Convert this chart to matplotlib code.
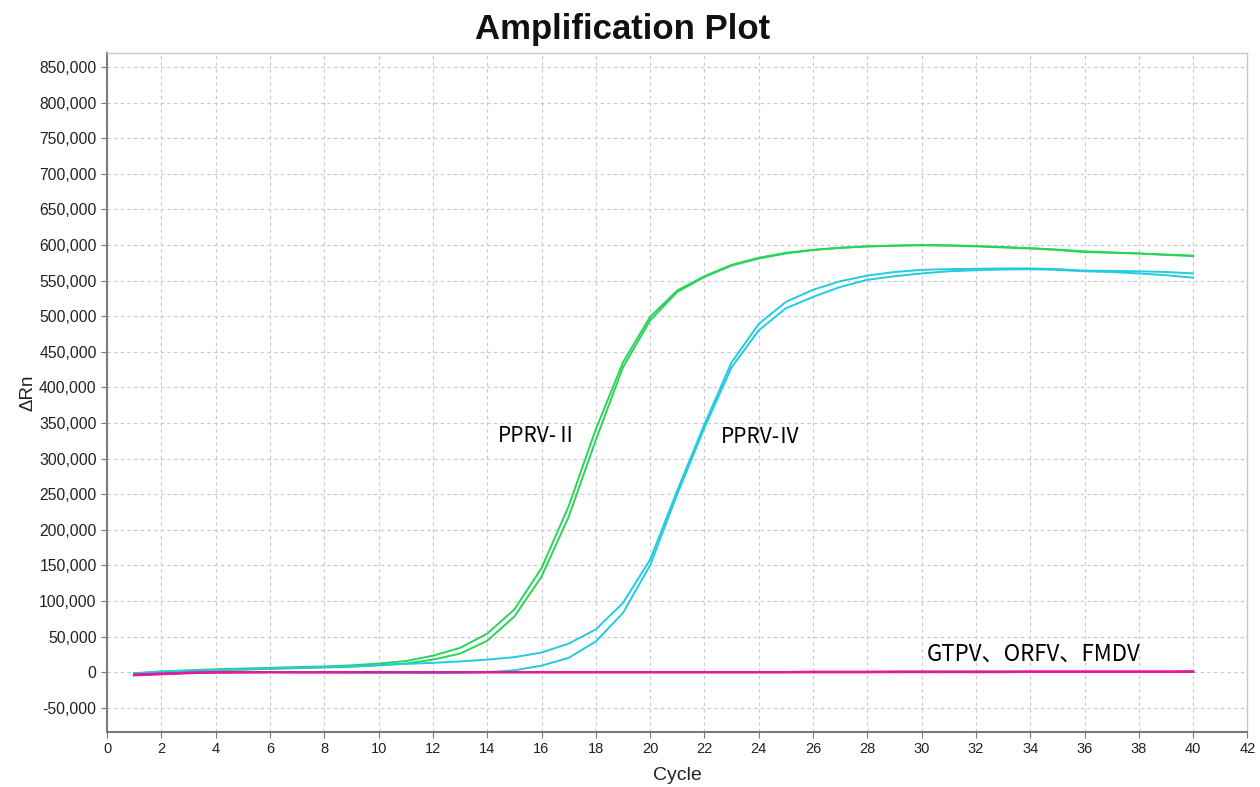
import matplotlib
matplotlib.use("Agg")
import matplotlib.pyplot as plt
from matplotlib.ticker import FuncFormatter, MultipleLocator

cycles = list(range(1, 41))

pprv2_a = [-2000, 1000, 2500, 4000, 5000, 6000, 7000, 8000, 9500, 12000,
           15500, 23000, 34000, 54000, 88000, 146000, 233000, 341000, 435000, 499000,
           536000, 556000, 572000, 582000, 589000, 593000, 596000, 598000, 599000, 599500,
           599000, 598000, 596500, 595000, 593000, 590000, 589000, 588000, 586000, 584500]
pprv2_b = [-2500, 500, 1500, 2500, 3500, 4500, 5500, 6500, 7500, 9500,
           12000, 17500, 26000, 44000, 78000, 134000, 218000, 326000, 428000, 494000,
           534000, 555000, 571000, 581000, 588000, 593000, 596000, 598000, 599000, 600000,
           599500, 598500, 597000, 595500, 593500, 591000, 589500, 588000, 586500, 585000]
pprv4_a = [-1500, 500, 2000, 3000, 4000, 5000, 6000, 7000, 8000, 10000,
           11500, 13000, 15000, 17500, 21000, 27500, 40000, 60000, 97000, 158000,
           255000, 348000, 435000, 489000, 520000, 537000, 549000, 557000, 562000, 565000,
           566000, 566500, 567000, 567000, 566000, 564000, 563500, 563000, 562000, 560000]
pprv4_b = [-2000, -500, 0, 500, 500, 0, -500, -500, -1000, -1000,
           -1000, -1500, -1000, 0, 2500, 9000, 20000, 43000, 83000, 150000,
           250000, 343000, 428000, 480000, 511000, 527000, 541000, 551000, 556000, 560000,
           563000, 564500, 565500, 566000, 565000, 563000, 562000, 560000, 557500, 554000]
gtpv = [-4000, -2500, -1000, -500, 0, 0, 0, 0, 0, 0,
        0, 0, 0, 0, 0, 0, 0, 0, 0, 0,
        0, 0, 0, 0, 0, 500, 500, 500, 500, 500,
        500, 500, 500, 500, 500, 500, 500, 500, 500, 500]
orfv = [-3500, -2000, -1000, 0, 0, 0, 0, 0, 0, 0,
        0, 0, 0, 0, 0, 0, 0, 0, 0, 0,
        0, 0, 0, 0, 0, 0, 0, 0, 500, 500,
        500, 500, 500, 500, 500, 500, 500, 500, 500, 500]
fmdv = [-4500, -3000, -1500, -500, -500, 0, 0, 0, 0, 0,
        0, 0, 0, 0, 0, 0, 0, 0, 0, 0,
        0, 0, 0, 0, 0, 0, 0, 0, 0, 0,
        0, 0, 0, 500, 500, 500, 500, 500, 500, 1000]

labels = ["PPRV-Ⅱ", "PPRV-Ⅳ", "GTPV、ORFV、FMDV"]

green = "#2ad35a"
cyan = "#22cbe0"
magenta = "#e41a9c"

plt.rcParams['font.family'] = ['Liberation Sans', 'DejaVu Sans']
fig = plt.figure(figsize=(12.6, 7.87), dpi=100)
ax = fig.add_axes([0.085, 0.07, 0.905, 0.863])

for s in (pprv2_a, pprv2_b):
    ax.plot(cycles, s, color=green, lw=1.4)
for s in (pprv4_a, pprv4_b):
    ax.plot(cycles, s, color=cyan, lw=1.4)
for s in (gtpv, orfv, fmdv):
    ax.plot(cycles, s, color=magenta, lw=1.6)

ax.set_xlim(0, 42)
ax.set_ylim(-84000, 870000)
ax.xaxis.set_major_locator(MultipleLocator(2))
ax.yaxis.set_major_locator(MultipleLocator(50000))
ax.yaxis.set_major_formatter(FuncFormatter(lambda v, p: f"{int(round(v)):,}"))
ax.grid(True, color="#c8c8c8", linestyle=(0, (3, 3)), linewidth=0.8)
ax.set_axisbelow(True)
for side in ("left", "bottom"):
    ax.spines[side].set_color("#7a7a7a")
    ax.spines[side].set_linewidth(1.5)
for side in ("top", "right"):
    ax.spines[side].set_color("#c8c8c8")
    ax.spines[side].set_linewidth(1.0)
ax.tick_params(axis="both", colors="#7a7a7a", labelcolor="#222222", length=4)
ax.tick_params(axis="y", labelsize=11.3)
ax.tick_params(axis="x", labelsize=10.5)

ax.set_xlabel("Cycle", fontsize=14, color="#222222", labelpad=8)
ax.set_ylabel("ΔRn", fontsize=13.5, color="#222222", labelpad=2)
fig.text(0.494, 0.963, "Amplification Plot", fontsize=25, fontweight="bold",
         ha="center", va="center", color="#111111")

cjk = ['Noto Sans CJK SC', 'DejaVu Sans']
ax.text(14.4, 332000, labels[0], fontsize=15, family=cjk, color="#000000", va="center")
ax.text(22.6, 330000, labels[1], fontsize=15, family=cjk, color="#000000", va="center")
ax.text(30.2, 25000, labels[2], fontsize=16, family=cjk, color="#000000", va="center")

fig.savefig("out.png", dpi=100)
